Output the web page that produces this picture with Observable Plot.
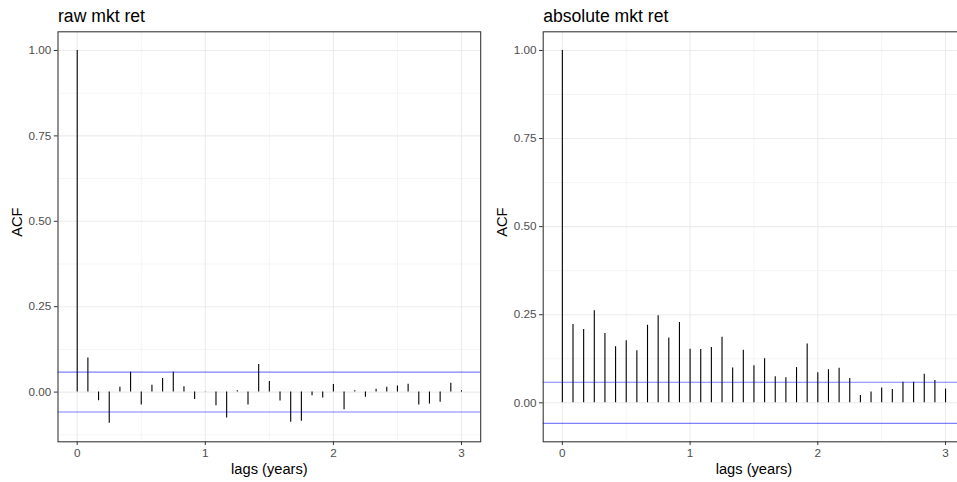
<!DOCTYPE html>
<html>
<head>
<meta charset="utf-8">
<script src="https://cdn.jsdelivr.net/npm/d3@7"></script>
<script src="https://cdn.jsdelivr.net/npm/@observablehq/plot@0.6"></script>
<style>
  html, body { margin: 0; padding: 0; background: white; }
  #wrap { position: relative; width: 957px; height: 482px; overflow: hidden; background: white;
          font-family: "Liberation Sans", Arial, Helvetica, sans-serif; }
  #wrap svg { position: absolute; top: 0; }
</style>
</head>
<body>
<div id="wrap"></div>
<script>
// lag in months (plotted as years = months / 12)
const lagMonths = d3.range(0, 37);
// ACF of raw market returns
const acfRaw = [1.00, 0.100, -0.025, -0.091, 0.014, 0.058, -0.038, 0.020, 0.040, 0.058, 0.016, -0.022,
  0.001, -0.040, -0.076, 0.004, -0.038, 0.081, 0.031, -0.026, -0.088, -0.085, -0.011, -0.017,
  0.022, -0.052, 0.004, -0.015, 0.008, 0.014, 0.018, 0.023, -0.038, -0.035, -0.030, 0.026, 0.004];
// ACF of absolute market returns
const acfAbs = [1.00, 0.222, 0.208, 0.261, 0.197, 0.159, 0.176, 0.148, 0.220, 0.247, 0.184, 0.228,
  0.152, 0.151, 0.157, 0.186, 0.099, 0.149, 0.105, 0.125, 0.074, 0.071, 0.100, 0.167,
  0.085, 0.094, 0.098, 0.069, 0.021, 0.031, 0.042, 0.038, 0.058, 0.058, 0.081, 0.063, 0.039];
const confBand = 0.0585;
const titles = ["raw mkt ret", "absolute mkt ret"];
const xTicks = [0, 1, 2, 3];
const xMinor = [0.5, 1.5, 2.5];
const yTicks = [0, 0.25, 0.5, 0.75, 1];
const yMinor = [-0.125, 0.125, 0.375, 0.625, 0.875];
const xLabel = "lags (years)";
const yLabel = "ACF";

const font = "Liberation Sans, Arial, Helvetica, sans-serif";

function panel(values, title, opts) {
  const data = lagMonths.map((m, i) => ({lag: m / 12, acf: values[i]}));
  const [ylo, yhi] = opts.yDomain;
  const minor = yMinor.filter(v => v > ylo && v < yhi);
  return Plot.plot({
    width: opts.width,
    height: 482,
    marginLeft: opts.marginLeft,
    marginRight: opts.marginRight,
    marginTop: 31.3,
    marginBottom: 40.7,
    style: {background: "transparent", fontFamily: font, overflow: "visible"},
    x: {domain: [-0.15, 3.15]},
    y: {domain: opts.yDomain},
    marks: [
      Plot.ruleX(xMinor, {stroke: "#ebebeb", strokeWidth: 0.55}),
      Plot.ruleY(minor, {stroke: "#ebebeb", strokeWidth: 0.55}),
      Plot.ruleX(xTicks, {stroke: "#ebebeb", strokeWidth: 1.07}),
      Plot.ruleY(yTicks, {stroke: "#ebebeb", strokeWidth: 1.07}),
      Plot.ruleX(data, {x: "lag", y1: 0, y2: "acf", stroke: "black", strokeWidth: 1.1}),
      Plot.ruleY([confBand, -confBand], {stroke: "blue", strokeOpacity: 0.5, strokeWidth: 1.07}),
      Plot.frame({stroke: "#333333", strokeWidth: 1.07}),
      Plot.axisX({ticks: xTicks, tickFormat: d => String(d), tickSize: 3.67, tickPadding: 3,
        stroke: "#333333", fill: "#4d4d4d", fontSize: 11.7, label: null}),
      Plot.axisY({ticks: yTicks, tickFormat: d3.format(".2f"), tickSize: 3.67, tickPadding: 3,
        stroke: "#333333", fill: "#4d4d4d", fontSize: 11.7, label: null}),
      Plot.text([xLabel], {text: d => d, frameAnchor: "bottom", dy: 27, lineAnchor: "middle",
        fontSize: 14.67, fill: "black"}),
      Plot.text([yLabel], {text: d => d, frameAnchor: "left", dx: -40.8, rotate: -90,
        lineAnchor: "middle", fontSize: 14.67, fill: "black"}),
      Plot.text([title], {text: d => d, frameAnchor: "top-left", dy: -15.4, textAnchor: "start",
        lineAnchor: "middle", fontSize: 17.6, fill: "black"})
    ]
  });
}

const wrap = document.getElementById("wrap");
const left = panel(acfRaw, titles[0], {
  width: 485, marginLeft: 57.5, marginRight: 4.8, yDomain: [-0.1455, 1.0547]
});
left.style.left = "0px";
wrap.appendChild(left);

const right = panel(acfAbs, titles[1], {
  width: 490, marginLeft: 62.7, marginRight: 5.8, yDomain: [-0.1107, 1.053]
});
right.style.left = "480px";
wrap.appendChild(right);
</script>
</body>
</html>
